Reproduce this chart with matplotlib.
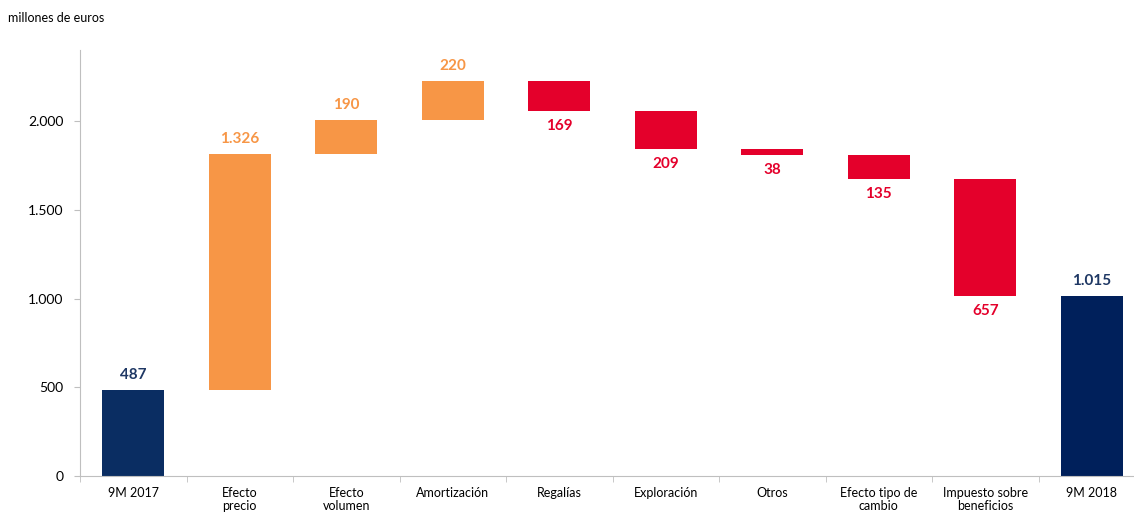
import matplotlib.pyplot as plt
import numpy as np

categorias = ["9M 2017", "Efecto\nprecio", "Efecto\nvolumen", "Amortización", "Regalías",
              "Exploración", "Otros", "Efecto tipo de\ncambio", "Impuesto sobre\nbeneficios", "9M 2018"]
valores = [487, 1326, 190, 220, -169, -209, -38, -135, -657, 1015]
etiquetas = ["487", "1.326", "190", "220", "169", "209", "38", "135", "657", "1.015"]
totales = [True, False, False, False, False, False, False, False, False, True]

plt.rcParams['font.family'] = ['Lato', 'DejaVu Sans']

fig = plt.figure(figsize=(11.34, 5.13), dpi=100)
ax = fig.add_axes([80 / 1134, 37 / 513, 1065 / 1134, 426 / 513])

navy = ["#0a2d62", "#00205b"]
orange = "#f79646"
red = "#e4002b"

acum = 0
for i, v in enumerate(valores):
    if totales[i]:
        base, top = 0, v
        acum = v
        col = navy[0] if i == 0 else navy[1]
        tcol = "#1f3864"
    else:
        base = acum
        acum += v
        top = acum
        col = orange if v > 0 else red
        tcol = col
    lo, hi = min(base, top), max(base, top)
    ax.bar(i, hi - lo, bottom=lo, width=0.58, color=col)
    if v > 0:
        ax.text(i, hi + 45, etiquetas[i], ha='center', va='bottom', color=tcol,
                fontsize=11, fontweight='bold')
    else:
        ax.text(i, lo - 45, etiquetas[i], ha='center', va='top', color=tcol,
                fontsize=11, fontweight='bold')

ax.set_xlim(-0.5, 9.5)
ax.set_ylim(0, 2400)
ax.set_yticks([0, 500, 1000, 1500, 2000])
ax.set_yticklabels(["0", "500", "1.000", "1.500", "2.000"])
ax.set_xticks(np.arange(10))
ax.set_xticklabels(categorias, fontsize=9, linespacing=1.05)
ax.set_xticks(np.arange(-0.5, 10, 1), minor=True)
ax.tick_params(axis='x', which='major', length=0, pad=8)
ax.tick_params(axis='x', which='minor', length=4, color="#bfbfbf")
ax.tick_params(axis='y', length=4, color="#bfbfbf", labelsize=10, pad=8)
for s in ['top', 'right']:
    ax.spines[s].set_visible(False)
for s in ['left', 'bottom']:
    ax.spines[s].set_color("#bfbfbf")

fig.text(8 / 1134, 1 - 18 / 513, "millones de euros", fontsize=9, va='center', ha='left')

fig.savefig("out.png", dpi=100)
